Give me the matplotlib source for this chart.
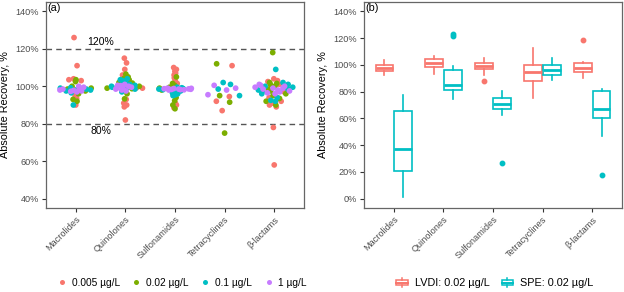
import matplotlib
matplotlib.use('Agg')

import numpy as np
import matplotlib.pyplot as plt
from matplotlib.lines import Line2D
from matplotlib.patches import Rectangle
from matplotlib.legend_handler import HandlerBase

plt.rcParams['font.family'] = ['Liberation Sans', 'DejaVu Sans']

classes = ['Macrolides', 'Quinolones', 'Sulfonamides', 'Tetracyclines', 'β-lactams']
conc_labels = ['0.005 µg/L', '0.02 µg/L', '0.1 µg/L', '1 µg/L']
conc_colors = ['#F8766D', '#7CAE00', '#00BFC4', '#C77CFF']

# panel (a): recovery per compound, one list per class and spike level
rec_0005 = {
    'Macrolides': [126, 111, 104, 103.5, 103, 99, 95, 93.5, 90],
    'Quinolones': [115, 112.5, 109, 106, 99.2, 99, 93, 91, 90, 89, 82],
    'Sulfonamides': [110, 109, 108, 107, 106, 104.5, 103, 101.5, 96, 91, 90, 88.5],
    'Tetracyclines': [111, 94.5, 92, 87],
    'β-lactams': [104, 103, 102.5, 101, 97, 94, 92, 91, 90, 89, 78, 58],
}
rec_002 = {
    'Macrolides': [103.5, 102.5, 100, 99, 98.5, 97.5, 96, 93, 92],
    'Quinolones': [106.5, 105, 104.2, 103.5, 102, 101.7, 100, 99, 98.7, 96, 93.3],
    'Sulfonamides': [105, 101.5, 100.5, 99.5, 99, 99, 98, 97, 94, 92.3, 90, 88],
    'Tetracyclines': [112, 95, 91.5, 75],
    'β-lactams': [118, 102, 101.5, 101, 100, 98.5, 97.5, 96, 95, 93.5, 92, 90],
}
rec_01 = {
    'Macrolides': [99.2, 99, 98.8, 98.5, 98.2, 98, 97.5, 96.5, 90],
    'Quinolones': [104, 103.5, 103, 102, 101, 100.5, 100, 99.5, 99, 98.5, 97],
    'Sulfonamides': [99.2, 98.8, 98.5, 98.2, 98, 97.5, 97, 96.5, 96, 95.5, 95, 99.5],
    'Tetracyclines': [102, 101, 98.5, 95],
    'β-lactams': [109, 102, 101, 100, 99.5, 98.5, 98, 97, 96, 94, 92, 92.5],
}
rec_1 = {
    'Macrolides': [98, 97.8, 97.5, 97.3, 98.5, 99, 100, 99.5, 97],
    'Quinolones': [101, 100.5, 100, 99.5, 99, 98.5, 98, 97.5, 99.8, 98.8, 100.3],
    'Sulfonamides': [98.8, 98.6, 98.5, 98.4, 98.3, 98.2, 98.5, 98.7, 99, 98.9, 98.1, 98],
    'Tetracyclines': [100.5, 99, 98, 95.5],
    'β-lactams': [101, 100.5, 100, 99.5, 99, 98.5, 98, 97.5, 97, 96.5, 96, 99],
}

# panel (b): box statistics, LVDI vs SPE at 0.02 µg/L
lvdi_low = [92.5, 93.3, 92.3, 75.6, 90]
lvdi_q1 = [95.5, 98.7, 96.8, 88, 94.8]
lvdi_med = [98, 101.7, 99, 94.3, 98]
lvdi_q3 = [99.8, 104.2, 101.5, 100, 101.3]
lvdi_high = [103.5, 106.7, 105, 112.5, 102]
lvdi_out = [[], [], [88], [], [118.4]]

spe_low = [1.3, 74.8, 62.5, 88.8, 46.5]
spe_q1 = [21, 81.3, 67.2, 92.3, 60.4]
spe_med = [37, 85.3, 71.1, 96, 67.2]
spe_q3 = [65.7, 96.5, 75.1, 99.8, 80.6]
spe_high = [77.6, 99.5, 80.8, 105, 81.9]
spe_out = [[], [121.5, 123], [26.6], [], [17.9]]
method_labels = ['LVDI: 0.02 µg/L', 'SPE: 0.02 µg/L']
method_colors = ['#F8766D', '#00BFC4']

GREY = '#4D4D4D'
BORDER = '#666666'


def style_axes(ax):
    for s in ax.spines.values():
        s.set_color(BORDER)
        s.set_linewidth(0.9)
    ax.tick_params(axis='both', colors='#333333', labelcolor=GREY,
                   labelsize=6.6, length=3, width=0.8, pad=2)
    ax.set_xticks(range(len(classes)))
    ax.set_xticklabels(classes, rotation=45, ha='right', va='top',
                       rotation_mode='anchor')
    ax.set_xlim(-0.6, 4.6)
    ax.set_ylabel('Absolute Recovery, %', fontsize=7.8, labelpad=4)


def van_der_corput(n):
    out = []
    for k in range(1, n + 1):
        v, denom = 0.0, 1.0
        while k:
            k, r = divmod(k, 2)
            denom *= 2
            v += r / denom
        out.append(v)
    return np.array(out)


def quasirandom_offsets(values, width=0.4, adjust=0.5):
    """Quasirandom spread like ggbeeswarm: van der Corput offsets scaled
    by the kernel density at each value."""
    y = np.asarray(values, float)
    n = len(y)
    q25, q75 = np.percentile(y, [25, 75])
    lo = min(y.std(ddof=1), (q75 - q25) / 1.34) or y.std(ddof=1) or 1.0
    bw = 0.9 * lo * n ** -0.2 * adjust
    grid = np.linspace(y.min() - 3 * bw, y.max() + 3 * bw, 512)

    def dens(t):
        return np.exp(-0.5 * ((t[:, None] - y[None, :]) / bw) ** 2).sum(axis=1)

    rel = dens(y) / dens(grid).max()
    rank = np.argsort(np.argsort(y, kind='stable'), kind='stable')
    vdc = van_der_corput(n)[rank]
    return (vdc * 2 - 1) * width * rel


class BoxHandler(HandlerBase):
    def create_artists(self, legend, orig_handle, xdescent, ydescent,
                       width, height, fontsize, trans):
        c = orig_handle.get_color()
        x0 = xdescent + width * 0.1
        w = width * 0.8
        y0 = -ydescent + height * 0.2
        h = height * 0.6
        rect = Rectangle((x0, y0), w, h, facecolor='white', edgecolor=c,
                         linewidth=1.1, transform=trans)
        med = Line2D([x0, x0 + w], [y0 + h / 2] * 2, color=c, lw=1.4, transform=trans)
        wt = Line2D([x0 + w / 2] * 2, [y0 + h, -ydescent + height], color=c, lw=1.1, transform=trans)
        wb = Line2D([x0 + w / 2] * 2, [-ydescent, y0], color=c, lw=1.1, transform=trans)
        return [rect, med, wt, wb]


fig = plt.figure(figsize=(6.24, 2.92), dpi=100)
ax1 = fig.add_axes([46 / 624, 84 / 292, 258 / 624, 206 / 292])
ax2 = fig.add_axes([364 / 624, 84 / 292, 258 / 624, 206 / 292])

# ---- panel (a): quasirandom dots
levels = [rec_0005, rec_002, rec_01, rec_1]
for i, cls in enumerate(classes):
    vals = np.concatenate([lv[cls] for lv in levels])
    cols = np.concatenate([[conc_colors[k]] * len(lv[cls]) for k, lv in enumerate(levels)])
    off = quasirandom_offsets(vals)
    ax1.scatter(i + off, vals, s=17, c=cols, linewidths=0, zorder=3)

for yv in (120, 80):
    ax1.axhline(yv, color='#555555', lw=1.0, ls=(0, (4, 3)), zorder=1)
ax1.text(0.5, 121, '120%', ha='center', va='bottom', fontsize=7.5)
ax1.text(0.5, 79, '80%', ha='center', va='top', fontsize=7.5)
ax1.set_ylim(35, 145)
ax1.set_yticks([40, 60, 80, 100, 120, 140])
ax1.set_yticklabels([f'{v}%' for v in [40, 60, 80, 100, 120, 140]])
style_axes(ax1)
ax1.text(0.006, 0.995, '(a)', transform=ax1.transAxes, ha='left', va='top', fontsize=7.8)

h1 = [Line2D([], [], marker='o', ls='', color=c, markersize=3.6, markeredgewidth=0)
      for c in conc_colors]
fig.legend(h1, conc_labels, loc='center', bbox_to_anchor=(182 / 624, 1 - 283 / 292),
           ncol=4, frameon=False, fontsize=7.3, handlelength=0.9,
           handletextpad=0.5, columnspacing=1.2)

# ---- panel (b): boxplots
off = 0.1875
bw = 0.36
for k, (lo, q1, md, q3, hi, out) in enumerate([
        (lvdi_low, lvdi_q1, lvdi_med, lvdi_q3, lvdi_high, lvdi_out),
        (spe_low, spe_q1, spe_med, spe_q3, spe_high, spe_out)]):
    stats = []
    for i in range(len(classes)):
        stats.append({'whislo': lo[i], 'q1': q1[i], 'med': md[i], 'q3': q3[i],
                      'whishi': hi[i], 'fliers': out[i]})
    pos = np.arange(len(classes)) + (-off if k == 0 else off)
    c = method_colors[k]
    ax2.bxp(stats, positions=pos, widths=bw, patch_artist=True, showcaps=False,
            boxprops=dict(facecolor='white', edgecolor=c, linewidth=1.2),
            whiskerprops=dict(color=c, linewidth=1.2),
            medianprops=dict(color=c, linewidth=2.0),
            flierprops=dict(marker='o', markerfacecolor=c, markeredgecolor=c,
                            markersize=3.2),
            manage_ticks=False)
ax2.set_ylim(-7, 147)
ax2.set_yticks(range(0, 141, 20))
ax2.set_yticklabels([f'{v}%' for v in range(0, 141, 20)])
style_axes(ax2)
ax2.text(0.006, 0.995, '(b)', transform=ax2.transAxes, ha='left', va='top', fontsize=7.8)

h2 = [Line2D([], [], color=c) for c in method_colors]
fig.legend(h2, method_labels, loc='center', bbox_to_anchor=(494 / 624, 1 - 283 / 292),
           ncol=2, frameon=False, fontsize=7.8, handlelength=1.3, handleheight=1.0,
           handletextpad=0.5, columnspacing=1.0,
           handler_map={h: BoxHandler() for h in h2})

fig.savefig('out.png', dpi=100)
